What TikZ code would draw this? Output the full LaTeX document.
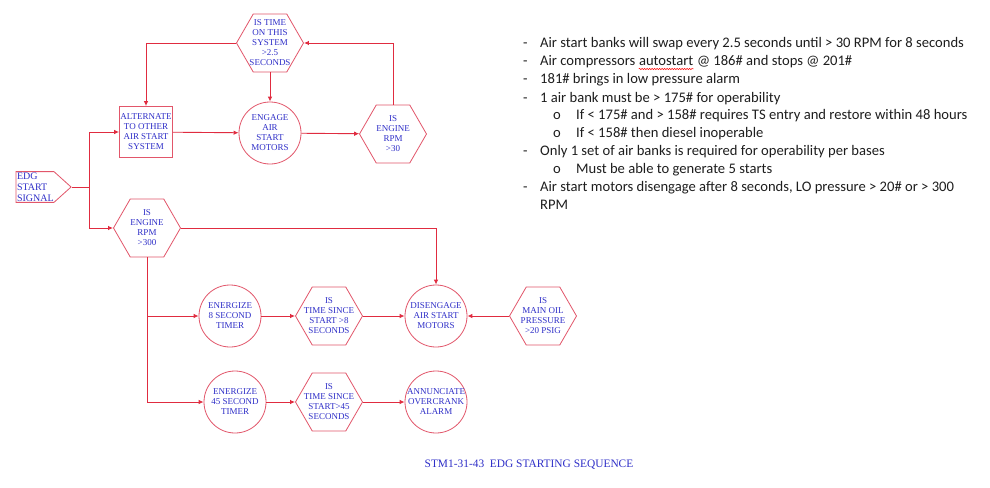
\documentclass[tikz,border=0pt]{standalone}
\usepackage{fontspec}
\setmainfont{Liberation Serif}
\newfontfamily\notefont{Carlito}
\definecolor{wire}{HTML}{E02C40}
\definecolor{edge}{HTML}{E2566A}
\definecolor{ink}{HTML}{2F2FC8}
\definecolor{txtd}{HTML}{1E1E1E}
\usetikzlibrary{shapes.geometric,shapes.symbols,arrows.meta,decorations.pathmorphing}

\begin{document}
\begin{tikzpicture}[x=1pt, y=-1pt,
  hexa/.style={regular polygon, regular polygon sides=6, minimum size=67pt, inner sep=0pt, draw=edge, line width=0.8pt},
  disc/.style={circle, minimum size=62pt, inner sep=0pt, draw=edge, line width=0.8pt},
  lbl/.style={font=\fontsize{9}{10}\selectfont, text=ink, align=center, inner sep=0pt},
  flow/.style={draw=wire, line width=0.9pt, -{Latex[length=5pt,width=4.5pt]}},
  note/.style={font=\notefont\fontsize{14.6}{16}\selectfont, text=txtd, anchor=base west, inner sep=0pt},
]
\fill[white] (0,0) rectangle (990,487);
\useasboundingbox (0,0) rectangle (990,487);

% start signal and first split
\node[signal, signal to=east, signal pointer angle=84, draw=edge, line width=0.8pt, text width=36pt, align=left, inner xsep=1pt, inner ysep=1pt, font=\fontsize{10}{11}\selectfont, text=ink] (edg) at (35,187) {EDG\\START\\SIGNAL};

% air start loop
\node[draw=edge, line width=0.8pt, minimum width=53pt, minimum height=51pt, inner sep=0pt] (alt) at (146,132) {};
\node[lbl] (alt-t) at (alt) {ALTERNATE\\TO OTHER\\AIR START\\SYSTEM};
\node[disc] (engage) at (270,133) {};
\node[lbl] (engage-t) at (engage) {ENGAGE\\AIR\\START\\MOTORS};
\node[hexa] (rpm30) at (393,134) {};
\node[lbl] (rpm30-t) at (rpm30) {IS\\ENGINE\\RPM\\>30};
\node[hexa] (time25) at (270,43) {};
\node[lbl] (time25-t) at (time25) {IS TIME\\ON THIS\\SYSTEM\\>2.5\\SECONDS};

% disengage branch
\node[hexa] (rpm300) at (147,228) {};
\node[lbl] (rpm300-t) at (rpm300) {IS\\ENGINE\\RPM\\>300};
\node[disc] (ener8) at (230,316) {};
\node[lbl] (ener8-t) at (ener8) {ENERGIZE\\8 SECOND\\TIMER};
\node[hexa] (time8) at (329,316) {};
\node[lbl] (time8-t) at (time8) {IS\\TIME SINCE\\START >8\\SECONDS};
\node[disc] (dis) at (436,316) {};
\node[lbl] (dis-t) at (dis) {DISENGAGE\\AIR START\\MOTORS};
\node[hexa] (oil) at (543,316) {};
\node[lbl] (oil-t) at (oil) {IS\\MAIN OIL\\PRESSURE\\>20 PSIG};

% overcrank branch
\node[disc] (ener45) at (235,402) {};
\node[lbl] (ener45-t) at (ener45) {ENERGIZE\\45 SECOND\\TIMER};
\node[hexa] (time45) at (329,402) {};
\node[lbl] (time45-t) at (time45) {IS\\TIME SINCE\\START>45\\SECONDS};
\node[disc] (annun) at (436,402) {};
\node[lbl] (annun-t) at (annun) {ANNUNCIATE\\OVERCRANK\\ALARM};

% connectors
\draw[flow] (edg.east) -- ++(18,0) coordinate (split) |- (alt.west);
\draw[flow] (split) |- (rpm300.west);
\draw[flow] (alt) -- (engage);
\draw[flow] (engage) -- (rpm30);
\draw[flow] (rpm30.north) |- (time25.east);
\draw[flow] (time25.west) -| (alt.north);
\draw[flow] (time25.south) -- (engage.north);
\draw[flow] (rpm300.east) -| (dis.north);
\draw[flow] (rpm300.south) |- (ener8.west);
\draw[flow] (rpm300.south) |- (ener45.west);
\draw[flow] (ener8) -- (time8);
\draw[flow] (time8) -- (dis);
\draw[flow] (oil) -- (dis);
\draw[flow] (ener45) -- (time45);
\draw[flow] (time45) -- (annun);

\node[font=\fontsize{11.4}{13}\selectfont, text=ink] (title) at (529,465) {STM1-31-43\ \ EDG STARTING SEQUENCE};

% notes
\node[note] (n1) at (523,47.5) {\makebox[17pt][l]{-}Air start banks will swap every 2.5 seconds until > 30 RPM for 8 seconds};
\node[note] (n2) at (523,66) {\makebox[17pt][l]{-}Air compressors\ \mbox{}};
\node[note] (n2w) at (n2.base east) {autostart};
\node[note] (n2r) at (n2w.base east) {\ @ 186\# and stops @ 201\#};
\node[note] (n3) at (523,84) {\makebox[17pt][l]{-}181\# brings in low pressure alarm};
\node[note] (n4) at (523,102) {\makebox[17pt][l]{-}1 air bank must be > 175\# for operability};
\node[note] (n5) at (553,119.5) {\makebox[23pt][l]{o}If < 175\# and > 158\# requires TS entry and restore within 48 hours};
\node[note] (n6) at (553,137) {\makebox[23pt][l]{o}If < 158\# then diesel inoperable};
\node[note] (n7) at (523,155) {\makebox[17pt][l]{-}Only 1 set of air banks is required for operability per bases};
\node[note] (n8) at (553,173) {\makebox[23pt][l]{o}Must be able to generate 5 starts};
\node[note] (n9) at (523,191) {\makebox[17pt][l]{-}Air start motors disengage after 8 seconds, LO pressure > 20\# or > 300};
\node[note] (n10) at (540,209.5) {RPM};
\draw[red, line width=0.5pt, decorate, decoration={snake, amplitude=0.7pt, segment length=2.5pt}] ([yshift=-3pt]n2w.base west) -- ([yshift=-3pt]n2w.base east);
\end{tikzpicture}
\end{document}
